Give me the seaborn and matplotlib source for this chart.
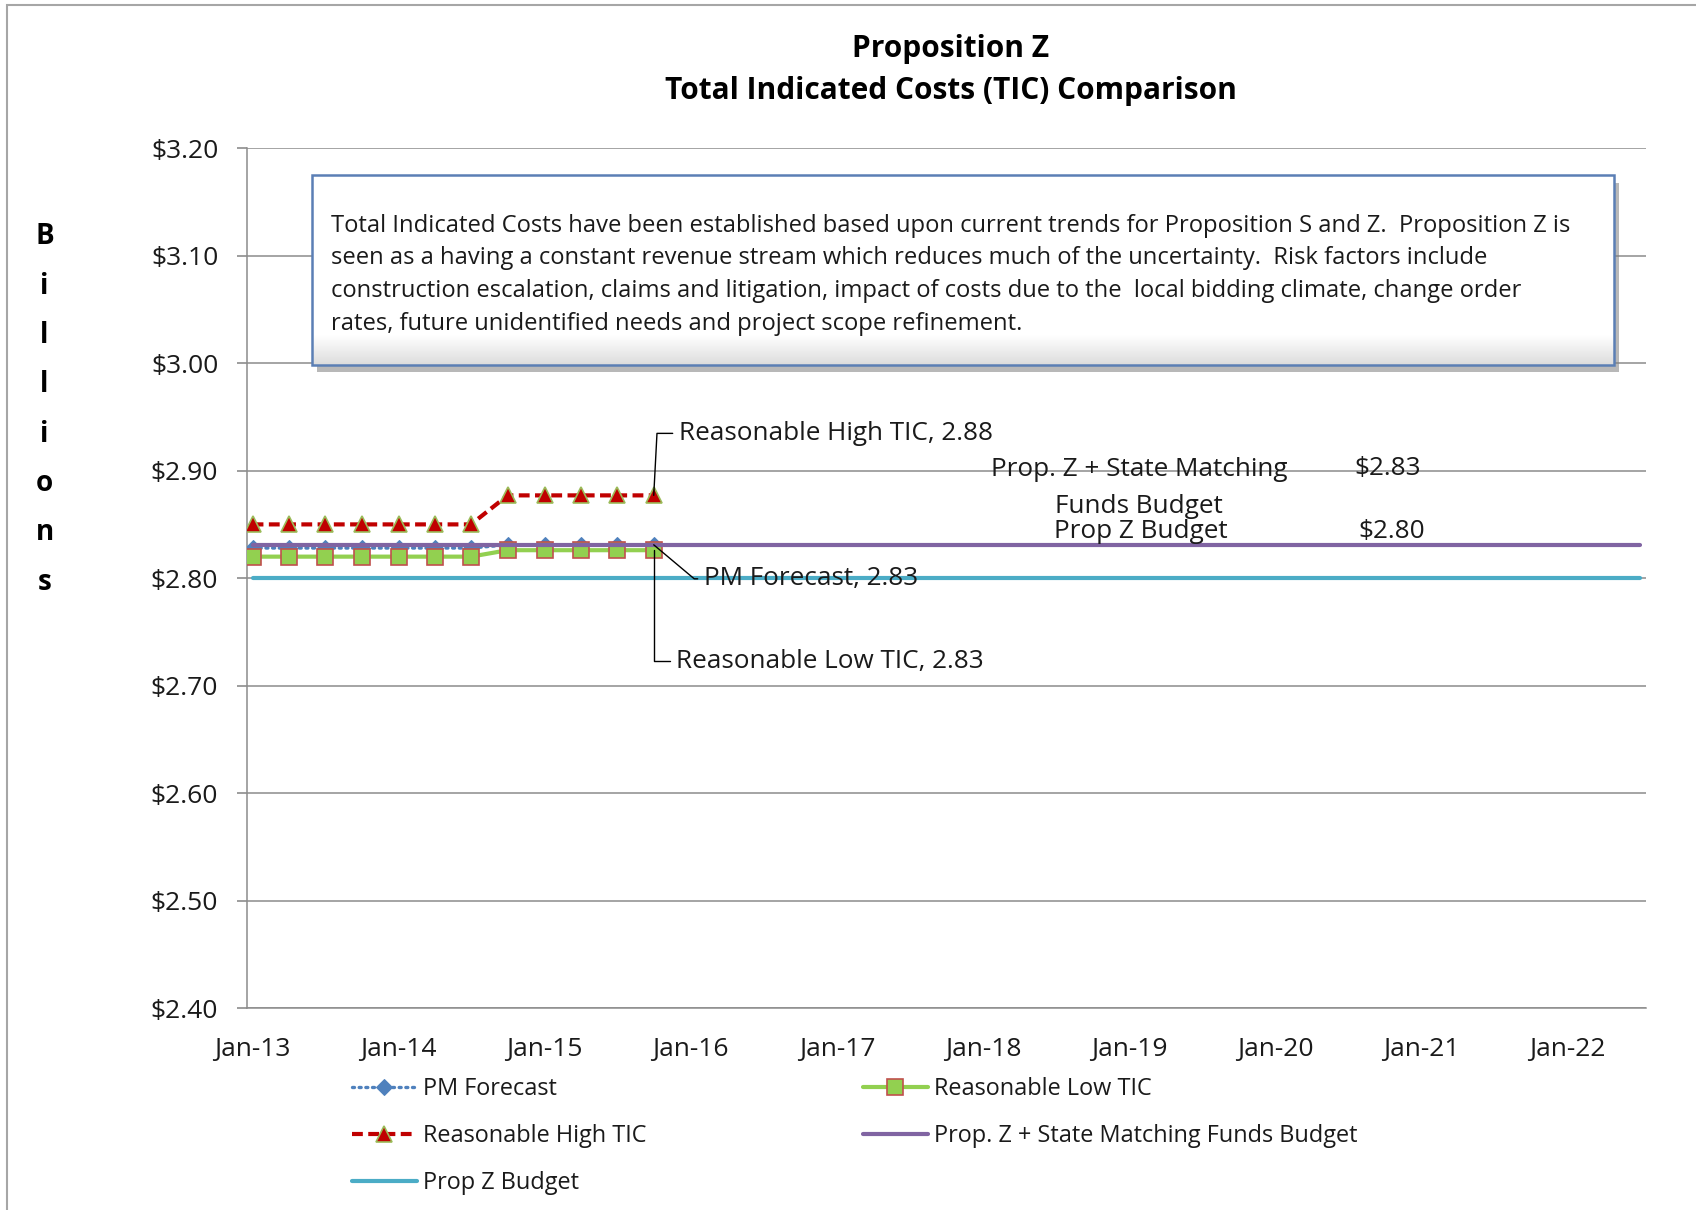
import numpy as np
import pandas as pd
import matplotlib
matplotlib.use("Agg")
import matplotlib.pyplot as plt
import matplotlib.dates as mdates
from matplotlib.ticker import FuncFormatter, FixedLocator
from matplotlib.patches import Rectangle
import seaborn as sns

# ---------------- data ----------------
months = ["2013-01", "2013-04", "2013-07", "2013-10", "2014-01", "2014-04",
          "2014-07", "2014-10", "2015-01", "2015-04", "2015-07", "2015-10"]
pm_forecast = [2.828, 2.828, 2.828, 2.828, 2.828, 2.828,
               2.828, 2.831, 2.831, 2.831, 2.831, 2.831]
low_tic = [2.820, 2.820, 2.820, 2.820, 2.820, 2.820,
           2.820, 2.826, 2.826, 2.826, 2.826, 2.826]
high_tic = [2.850, 2.850, 2.850, 2.850, 2.850, 2.850,
            2.850, 2.877, 2.877, 2.877, 2.877, 2.877]
budget_months = ["2013-01", "2022-07"]
state_matching_budget = [2.831, 2.831]
propz_budget = [2.80, 2.80]

axis_start, axis_end = "2013-01-01", "2022-08-01"
year_ticks = ["2013-01", "2014-01", "2015-01", "2016-01", "2017-01",
              "2018-01", "2019-01", "2020-01", "2021-01", "2022-01"]
y_ticks = [2.40, 2.50, 2.60, 2.70, 2.80, 2.90, 3.00, 3.10, 3.20]

series_names = ["PM Forecast", "Reasonable Low TIC", "Reasonable High TIC",
                "Prop. Z + State Matching Funds Budget", "Prop Z Budget"]
title_lines = ["Proposition Z", "Total Indicated Costs (TIC) Comparison"]
y_label = "Billions"
state_label_lines = ["Prop. Z + State Matching", "Funds Budget"]
note_lines = [
    "Total Indicated Costs have been established based upon current trends for Proposition S and Z.  Proposition Z is",
    "seen as a having a constant revenue stream which reduces much of the uncertainty.  Risk factors include",
    "construction escalation, claims and litigation, impact of costs due to the  local bidding climate, change order",
    "rates, future unidentified needs and project scope refinement.",
]

# ---------------- style ----------------
sns.set_theme(style="white")
plt.rcParams["font.family"] = ["Open Sans", "DejaVu Sans"]
FS_TICK = 19
FS_ANN = 18.8
FS_NOTE = 17.1
FS_LEG = 16.9
FS_TITLE = 21.5
TXT = "#1a1a1a"
GRID = "#8c8c8c"

def mid_month(m):
    # Excel date axis (base unit months, between tick marks): points sit mid-month
    return pd.to_datetime(pd.Series(m)) + pd.Timedelta(days=15)

x = mid_month(months)
xb = mid_month(budget_months)

fig = plt.figure(figsize=(16.96, 12.10), dpi=100)
ax = fig.add_axes([0.1454, 0.1669, 0.8251, 0.7106])

c_pm, c_low, c_low_edge = "#4f81bd", "#92d050", "#c0504d"
c_high, c_high_edge = "#c00000", "#9bbb59"
c_state, c_propz = "#8064a2", "#4bacc6"

sns.lineplot(x=x, y=pm_forecast, ax=ax, color=c_pm, lw=2.4,
             linestyle=(0, (0.6, 1.4)), dash_capstyle="round",
             marker="D", markersize=8, markerfacecolor=c_pm,
             markeredgecolor=c_pm, label=series_names[0], legend=False, zorder=3)
sns.lineplot(x=x, y=low_tic, ax=ax, color=c_low, lw=3.0, marker="s",
             markersize=11, markerfacecolor=c_low, markeredgecolor=c_low_edge,
             markeredgewidth=1.2, label=series_names[1], legend=False, zorder=4)
sns.lineplot(x=x, y=high_tic, ax=ax, color=c_high, lw=3.0,
             linestyle=(0, (2.6, 1.3)), marker="^", markersize=12,
             markerfacecolor=c_high, markeredgecolor=c_high_edge,
             markeredgewidth=1.2, label=series_names[2], legend=False, zorder=4)
sns.lineplot(x=xb, y=state_matching_budget, ax=ax, color=c_state, lw=3.0,
             label=series_names[3], legend=False, zorder=5)
sns.lineplot(x=xb, y=propz_budget, ax=ax, color=c_propz, lw=3.0,
             label=series_names[4], legend=False, zorder=5)

# axes
ax.set_xlim(pd.to_datetime(axis_start), pd.to_datetime(axis_end))
ax.set_ylim(y_ticks[0], y_ticks[-1])
ax.yaxis.set_major_locator(FixedLocator(y_ticks))
ax.yaxis.set_major_formatter(FuncFormatter(lambda v, p: f"${v:.2f}"))
ax.xaxis.set_major_locator(FixedLocator(mdates.date2num(mid_month(year_ticks))))
ax.xaxis.set_major_formatter(mdates.DateFormatter("%b-%y"))
ax.tick_params(axis="y", length=7, width=1.2, color=GRID, pad=13.5,
               labelsize=FS_TICK, labelcolor=TXT, left=True)
ax.tick_params(axis="x", length=0, pad=21, labelsize=FS_TICK, labelcolor=TXT)
ax.set_xlabel("")
ax.set_ylabel("")
ax.grid(axis="y", color=GRID, lw=1.1)
ax.grid(axis="x", visible=False)
for s in ["top", "right"]:
    ax.spines[s].set_visible(False)
for s in ["left", "bottom"]:
    ax.spines[s].set_color(GRID)
    ax.spines[s].set_linewidth(1.1)

# titles
fig.text(0.5605, 1 - 48.5 / 1210, title_lines[0], ha="center", va="center",
         fontsize=FS_TITLE, fontweight="bold", color="#000000")
fig.text(0.5605, 1 - 91 / 1210, title_lines[1], ha="center", va="center",
         fontsize=FS_TITLE, fontweight="bold", color="#000000")

# vertical stacked y label
for i, ch in enumerate(y_label):
    fig.text(44.5 / 1696, 1 - (237 + 49.3 * i) / 1210, ch, ha="center",
             va="center", fontsize=20, fontweight="bold", color="#000000")

# note box with shadow
bx0, bx1, by0, by1 = 0.0464, 0.9768, 0.7484, 0.9686
shadow = Rectangle((bx0 + 0.004, by0 - 0.009), bx1 - bx0, by1 - by0,
                   transform=ax.transAxes, facecolor="#7f7f7f", alpha=0.55,
                   edgecolor="none", zorder=6)
ax.add_patch(shadow)
grad = np.ones((60, 2, 3))
t = np.linspace(0, 1, 60)
shade = 1 - 0.13 * np.clip((t - 0.85) / 0.15, 0, 1)
grad *= shade[:, None, None]
ax.imshow(grad, extent=[bx0, bx1, by0, by1], transform=ax.transAxes,
          aspect="auto", origin="upper", zorder=7, interpolation="bilinear")
box = Rectangle((bx0, by0), bx1 - bx0, by1 - by0, transform=ax.transAxes,
                facecolor="none", edgecolor="#5b7fb5", lw=1.8, zorder=8)
ax.add_patch(box)
ax.set_xlim(pd.to_datetime(axis_start), pd.to_datetime(axis_end))
ax.set_ylim(y_ticks[0], y_ticks[-1])
for i, line in enumerate(note_lines):
    ax.text(0.0603, 0.9100 - 0.0381 * i, line, transform=ax.transAxes,
            ha="left", va="center", fontsize=FS_NOTE, color=TXT, zorder=9)

# data-label annotations
ap = dict(arrowstyle="-", color="#000000", lw=1.0, shrinkA=2, shrinkB=0)
ax.annotate(f"{series_names[2]}, {high_tic[-1]:.2f}",
            xy=(x.iloc[-1], high_tic[-1]), xytext=(25, 62),
            textcoords="offset pixels", ha="left", va="center", fontsize=FS_ANN,
            color=TXT, zorder=9,
            arrowprops=dict(ap, connectionstyle="angle,angleA=0,angleB=87,rad=0"))
ax.annotate(f"{series_names[0]}, {pm_forecast[-1]:.2f}",
            xy=(x.iloc[-1], pm_forecast[-1]), xytext=(50, -34),
            textcoords="offset pixels", ha="left", va="center", fontsize=FS_ANN,
            color=TXT, zorder=9,
            arrowprops=dict(ap, connectionstyle="angle,angleA=0,angleB=-40,rad=0"))
ax.annotate(f"{series_names[1]}, {low_tic[-1]:.2f}",
            xy=(x.iloc[-1], low_tic[-1]), xytext=(22, -111),
            textcoords="offset pixels", ha="left", va="center", fontsize=FS_ANN,
            color=TXT, zorder=9,
            arrowprops=dict(ap, connectionstyle="angle,angleA=0,angleB=90,rad=0"))

# budget labels
ax.text(0.6376, 0.6264, state_label_lines[0], transform=ax.transAxes,
        ha="center", va="center", fontsize=FS_ANN, color=TXT, zorder=9)
ax.text(0.6376, 0.5837, state_label_lines[1], transform=ax.transAxes,
        ha="center", va="center", fontsize=FS_ANN, color=TXT, zorder=9)
ax.text(0.8153, 0.6277, f"${state_matching_budget[0]:.2f}", transform=ax.transAxes,
        ha="center", va="center", fontsize=FS_ANN, color=TXT, zorder=9)
ax.text(0.6387, 0.5547, series_names[4], transform=ax.transAxes,
        ha="center", va="center", fontsize=FS_ANN, color=TXT, zorder=9)
ax.text(0.8180, 0.5547, f"${propz_budget[0]:.2f}", transform=ax.transAxes,
        ha="center", va="center", fontsize=FS_ANN, color=TXT, zorder=9)

# legend (two columns as in the reference)
handles, labels = ax.get_legend_handles_labels()
hmap = dict(zip(labels, handles))
leg_kw = dict(frameon=False, fontsize=FS_LEG, handlelength=2.75, handletextpad=0.28,
              labelspacing=0.99, borderaxespad=0, borderpad=0,
              labelcolor=TXT, loc="upper left")
leg1 = fig.legend([hmap[n] for n in (series_names[0], series_names[2], series_names[4])],
                  [series_names[0], series_names[2], series_names[4]],
                  bbox_to_anchor=(352 / 1696, 1 - 1077 / 1210), **leg_kw)
leg2 = fig.legend([hmap[n] for n in (series_names[1], series_names[3])],
                  [series_names[1], series_names[3]],
                  bbox_to_anchor=(863 / 1696, 1 - 1077 / 1210), **leg_kw)

# chart-area border
fig.add_artist(Rectangle((7 / 1696, -0.1), 1.2, 1.1 - 5 / 1210,
                         transform=fig.transFigure, facecolor="none",
                         edgecolor="#a6a6a6", lw=1.5))

fig.savefig("out.png", dpi=100)
